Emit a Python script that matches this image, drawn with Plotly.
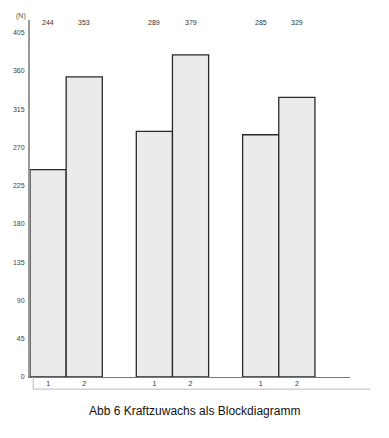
import plotly.graph_objects as go

groups = ["A", "B", "C"]
series_labels = ["1", "2"]
values_1 = [244, 289, 285]
values_2 = [353, 379, 329]
y_ticks = [0, 45, 90, 135, 180, 225, 270, 315, 360, 405]
title_text = "Abb 6 Kraftzuwachs als Blockdiagramm"
unit_label = "(N)"

group_step = 2.94
bar_w = 1.0

fig = go.Figure()
xs1 = [i * group_step + 0.5 for i in range(len(groups))]
xs2 = [i * group_step + 1.5 for i in range(len(groups))]
for xs, vals in [(xs1, values_1), (xs2, values_2)]:
    fig.add_trace(go.Bar(
        x=xs, y=vals, width=bar_w,
        marker=dict(color="#ebebeb", line=dict(color="#2a2a2a", width=1.3)),
        showlegend=False, hoverinfo="skip",
    ))

tickvals = []
ticktext = []
for i in range(len(groups)):
    tickvals += [xs1[i], xs2[i]]
    ticktext += series_labels

annotations = []
for xs, vals in [(xs1, values_1), (xs2, values_2)]:
    for x, v in zip(xs, vals):
        annotations.append(dict(x=x, y=1, xref="x", yref="paper", text=str(v),
                                showarrow=False, yanchor="middle", yshift=-2,
                                font=dict(size=7, color="#333")))
annotations.append(dict(x=0, y=1, xref="paper", yref="paper", text=unit_label,
                        showarrow=False, xanchor="right", yanchor="middle",
                        xshift=-2, yshift=4, font=dict(size=7, color="#555")))
annotations.append(dict(x=0.5, y=0, xref="paper", yref="paper", text=title_text,
                        showarrow=False, xanchor="center", yanchor="middle",
                        yshift=-34, xshift=4,
                        font=dict(size=12, color="#111", family="Liberation Sans, Arial")))

fig.update_layout(
    width=389, height=438,
    margin=dict(l=30, r=39, t=20, b=61),
    paper_bgcolor="white", plot_bgcolor="white",
    barmode="overlay",
    annotations=annotations,
    font=dict(family="Liberation Sans, Arial", size=7, color="#333"),
    xaxis=dict(range=[0, 8.85], tickvals=tickvals, ticktext=ticktext,
               showgrid=False, zeroline=False, showline=True, linecolor="#777",
               linewidth=1, ticks="", tickfont=dict(size=7, color="#333")),
    yaxis=dict(range=[0, 420], tickvals=y_ticks, showgrid=False, zeroline=False,
               showline=True, linecolor="#999", linewidth=2, ticks="",
               ticklabelstandoff=2, tickfont=dict(size=7, color="#444")),
)
# lower box line (scan frame)
fig.add_shape(type="line", xref="paper", yref="paper", x0=0.01, x1=1.064,
              y0=-0.034, y1=-0.034, line=dict(color="#bbb", width=1))
fig.add_shape(type="line", xref="paper", yref="paper", x0=0.01, x1=0.01,
              y0=-0.034, y1=0, line=dict(color="#bbb", width=1))
fig.write_html("out.html")
